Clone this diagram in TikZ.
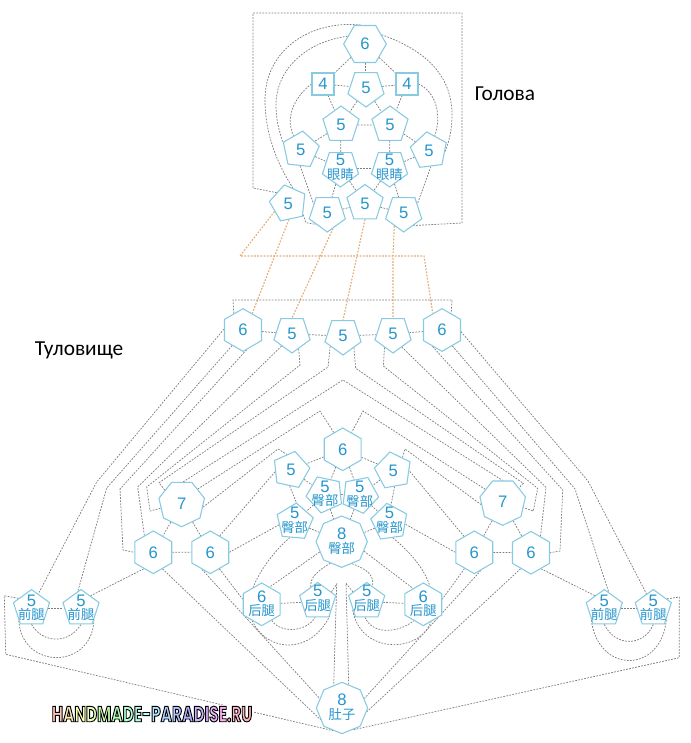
\documentclass[tikz,border=0pt]{standalone}
\usepackage{fontspec}
\setmainfont{Liberation Sans}
\newfontfamily\cjk{Noto Sans CJK SC}
\newfontfamily\ruslabel{Carlito}
\newfontfamily\wmfont[FakeStretch=0.7]{Poppins}
\usetikzlibrary{shapes.geometric,backgrounds}
\definecolor{cellline}{RGB}{135,202,225}
\definecolor{celltext}{RGB}{38,150,205}
\definecolor{linkgray}{RGB}{125,125,125}
\definecolor{linkorange}{RGB}{228,170,115}
% digit above, chinese word below, no width for the polygon to grow on
\newcommand\duo[3][0pt]{\makebox[0pt]{\raisebox{\dimexpr 1.7pt+#1\relax}[0pt][0pt]{\makebox[0pt]{#2}}}\makebox[0pt]{\raisebox{\dimexpr -8.6pt+#1\relax}[0pt][0pt]{\makebox[0pt]{\fontsize{10}{10}\cjk #3}}}}
\newcommand\wml[2]{\textcolor[hsb]{#1,0.3,1}{\special{pdf:literal 0 0 0 RG 2 Tr 0.7 w}#2\special{pdf:literal 0 Tr}}}
\begin{document}
\begin{tikzpicture}[x=0.75pt,y=-0.75pt]

    \tikzset{
      cell/.style={
        regular polygon,
        draw=cellline,
        fill=white,
        text=celltext,
        line width=0.8pt,
        inner sep=0pt,
        font=\fontsize{12.5}{12.5}\selectfont,
      },
      cellfour/.style={cell,rectangle,minimum size=16.5pt},
      cellfive/.style={cell,regular polygon sides=5,minimum size=28.5pt,regular polygon rotate=#1},
      cellfive/.default=0,
      cellsix/.style={cell,regular polygon sides=6,minimum size=32pt,regular polygon rotate=#1},
      cellsix/.default=30,
      cellseven/.style={cell,regular polygon sides=7,minimum size=35pt,regular polygon rotate=180},
      celleight/.style={cell,regular polygon sides=8,minimum size=38.5pt,regular polygon rotate=22.5},
      link/.style={draw=linkgray,line width=0.55pt,dash pattern=on 1.3pt off 1pt},
      seam/.style={draw=linkorange,line width=0.85pt,dash pattern=on 1.3pt off 1.1pt},
    }
    \useasboundingbox (0,0) rectangle (690,743);

    % head
    \node[cellsix=0] (h6) at (365,44) {6};
    \node[cellfour] (h4l) at (323,84) {4};
    \node[cellfour] (h4r) at (407,84) {4};
    \node[cellfive=180] (h5t) at (366,88) {5};
    \node[cellfive] (h5a) at (341,125) {5};
    \node[cellfive] (h5b) at (390,125) {5};
    \node[cellfive=-6] (h5c) at (300.7,150) {5};
    \node[cellfive=7] (h5d) at (429,150.7) {5};
    \node[cellfive=180] (eyel) at (340.5,168) {\duo{5}{眼睛}};
    \node[cellfive=180] (eyer) at (389.5,168) {\duo{5}{眼睛}};
    \node[cellfive=12] (h5e) at (288.3,203.5) {5};
    \node[cellfive=180] (h5f) at (327.3,213) {5};
    \node[cellfive] (h5g) at (365,203.5) {5};
    \node[cellfive=180] (h5h) at (403.7,213) {5};

    % trunk, top row
    \node[cellsix] (t6l) at (243,330) {6};
    \node[cellfive=180] (t5a) at (292,334) {5};
    \node[cellfive=180] (t5b) at (343,336) {5};
    \node[cellfive=180] (t5c) at (393,334) {5};
    \node[cellsix] (t6r) at (442,330) {6};

    % trunk, middle
    \node[cellsix] (c6) at (342.7,449.3) {6};
    \node[cellfive=-12] (c5l) at (291,470) {5};
    \node[cellfive=10] (c5r) at (393.2,470.7) {5};
    \node[cellfive=168] (u1) at (325,494.3) {\duo{5}{臀部}};
    \node[cellfive=191] (u2) at (359.8,494.7) {\duo{5}{臀部}};
    \node[cellfive=-5] (l1) at (294.7,522) {\duo[1pt]{5}{臀部}};
    \node[cellfive=8] (l2) at (389.5,522.2) {\duo[1pt]{5}{臀部}};
    \node[celleight] (c8) at (341.7,541.7) {\duo{8}{臀部}};
    \node[cellseven] (n7l) at (181.7,503.4) {7};
    \node[cellseven] (n7r) at (502.7,502) {7};
    \node[cellsix] (n6a) at (153.3,552.3) {6};
    \node[cellsix] (n6b) at (210.3,552.3) {6};
    \node[cellsix] (n6c) at (474.3,552.3) {6};
    \node[cellsix] (n6d) at (531,552.7) {6};

    % legs and belly
    \node[cellfive] (lf1) at (31.5,608.5) {\duo{5}{前腿}};
    \node[cellfive] (lf2) at (81,608.5) {\duo{5}{前腿}};
    \node[cellfive] (rf1) at (604.3,608.5) {\duo{5}{前腿}};
    \node[cellfive] (rf2) at (653.3,608.5) {\duo{5}{前腿}};
    \node[cellsix] (lh6) at (261.7,604.3) {\duo{6}{后腿}};
    \node[cellfive] (lh5) at (317.7,601.5) {\duo[1.8pt]{5}{后腿}};
    \node[cellfive] (rh5) at (366.7,601.5) {\duo[1.8pt]{5}{后腿}};
    \node[cellsix] (rh6) at (423.3,604.3) {\duo{6}{后腿}};
    \node[celleight] (b8) at (342,708) {\duo{8}{肚子}};

    \begin{scope}[on background layer]
      \foreach \a/\b in {h6/h5t,h6/h4l,h6/h4r,h4l/h5t,h5t/h4r,h4l/h5a,h4r/h5b,h5t/h5a,h5t/h5b,h5a/h5b,
        h5a/h5c,h5b/h5d,h5a/eyel,h5b/eyer,eyel/eyer,h5c/eyel,h5d/eyer,eyel/h5f,eyel/h5g,eyer/h5g,eyer/h5h,
        h5f/h5g,h5g/h5h,t6l/t5a,t5a/t5b,t5b/t5c,t5c/t6r,
        c6/c5l,c6/c5r,c6/u1,c6/u2,c5l/u1,c5r/u2,u1/u2,u1/l1,u2/l2,u1/c8,u2/c8,l1/c8,l2/c8,
        n7l/n6a,n7l/n6b,n6a/n6b,n7r/n6c,n7r/n6d,n6c/n6d,lf1/lf2,rf1/rf2,lh6/lh5,rh5/rh6}
        \draw[link] (\a) -- (\b);
      \draw[link] (c5l.265) -- (l1.85);
      \draw[link] (c5r.275) -- (l2.85);

      % head outline and curves
      \draw[link] (h5e.137) -- (253,188) -- (253,13) -- (462,13) -- (462,223) -- (h5h.308);
      \draw[link] (h6.103) .. controls (310,20) and (265,50) .. (265,100) .. controls (265,135) and (278,165) .. (h5e.73);
      \draw[link] (h6.156) .. controls (305,42) and (276,70) .. (276,105) .. controls (276,120) and (279,130) .. (h5c.158);
      \draw[link] (h6.29) .. controls (425,50) and (452,75) .. (452,115) .. controls (452,130) and (449,142) .. (h5d.353);
      \draw[link] (h4l.west) .. controls (297,95) and (284,115) .. (h5c.117);
      \draw[link] (h4r.east) .. controls (436,92) and (442,115) .. (h5d.69);
      \draw[link] (h5e.323) -- (306,222.7) -- (h5f.225);
      \draw[link] (h5c.268) -- (h5f.146);
      \draw[link] (h5d.277) -- (h5h.34);

      % seam between head and trunk
      \draw[seam] (h5e.210) -- (240,256) -- (424,256) -- (t6r.119);
      \draw[seam] (h5e.272) -- (t6l.61);
      \draw[seam] (h5f.290) -- (t5a.90);
      \draw[seam] (h5g.270) -- (t5b.90);
      \draw[seam] (h5h.234) -- (393,256) -- (t5c.90);
      \draw[link] (t6l.119) -- (233,300) -- (452,300) -- (t6r.61);

      % long lines, left side
      \draw[link] (t6l.177) -- (96.7,482) -- (lf1.65);
      \draw[link] (t6l.235) -- (106.7,488) -- (lf2.100);
      \draw[link] (t6l.280) -- (120,489) -- (123,550) -- (n6a.180);
      \draw[link] (t5a.229) -- (137.7,487) -- (n6a.118);
      \draw[link] (t5a.294) -- (300,365) -- (146.7,487) -- (150,511) -- (n7l.193);
      \draw[link] (t5b.219) -- (328,367) -- (159,482.7) -- (n7l.142);

      % long lines, right side
      \draw[link] (t6r.355) -- (588,481) -- (rf2.115);
      \draw[link] (t6r.303) -- (575,489) -- (rf1.75);
      \draw[link] (t6r.240) -- (562.7,490) -- (560,551) -- (n6d.0);
      \draw[link] (t5c.304) -- (546,487.3) -- (n6d.60);
      \draw[link] (t5c.238) -- (383.3,366) -- (537.7,488.3) -- (533.3,511) -- (n7r.345);
      \draw[link] (t5b.313) -- (355.7,368.3) -- (523.3,483.3) -- (n7r.41);

      % peaks over the middle
      \draw[link] (n7l.86) -- (343,380) -- (n7r.90);
      \draw[link] (n7l.42) -- (320,411) -- (c6.118);
      \draw[link] (n7r.144) -- (363,411) -- (c6.62);
      \draw[link] (n7l.350) -- (278,449) -- (c5l.105);
      \draw[link] (n7r.187) -- (405,449) -- (c5r.55);

      % middle to the sixes and hind legs
      \draw[link] (n6b.60) -- (c5l.186);
      \draw[link] (n6c.123) -- (c5r.0);
      \draw[link] (n6b.0) -- (l1.190);
      \draw[link] (n6c.180) -- (l2.353);
      \draw[link] (l1.253) .. controls (275,550) and (260,570) .. (lh6.117);
      \draw[link] (l2.282) .. controls (410,552) and (424,568) .. (rh6.70);
      \draw[link] (c8.205) -- (lh6.65);
      \draw[link] (c8.337) -- (rh6.123);
      \draw[link] (c8.242) .. controls (316,572) and (310,578) .. (lh5.115);
      \draw[link] (c8.295) .. controls (369,570) and (374,576) .. (rh5.69);
      \draw[link] (lh6.302) .. controls (280,633) and (305,633) .. (lh5.261);
      \draw[link] (lh6.240) .. controls (268,654) and (312,654) .. (lh5.312);
      \draw[link] (rh5.264) .. controls (372,634) and (397,634) .. (rh6.240);
      \draw[link] (rh5.212) .. controls (360,654) and (419,654) .. (rh6.294);

      % fore legs
      \draw[link] (n6a.240) -- (lf2.53);
      \draw[link] (n6d.302) -- (rf1.126);
      \draw[link] (lf1.270) .. controls (43,644) and (69,644) .. (lf2.270);
      \draw[link] (lf1.224) .. controls (22,670) and (92,670) .. (lf2.319);
      \draw[link] (rf1.270) .. controls (615,647) and (644,647) .. (rf2.270);
      \draw[link] (rf1.222) .. controls (598,674) and (661,674) .. (rf2.319);

      % belly
      \draw[link] (lf1.142) -- (4.3,595.7) -- (5.7,654.3) -- (b8.250);
      \draw[link] (rf2.35) -- (679.3,597) -- (679.3,657.7) -- (b8.295);
      \draw[link] (lh5.35) -- (336.7,584) -- (b8.110);
      \draw[link] (rh5.145) -- (346,583.3) -- (b8.74);
      \draw[link] (n6a.299) -- (b8.209);
      \draw[link] (n6b.244) -- (b8.157);
      \draw[link] (n6b.299) -- (lh6.165);
      \draw[link] (n6c.290) -- (b8.23);
      \draw[link] (n6c.239) -- (rh6.15);
      \draw[link] (n6d.237) -- (b8.351);
    \end{scope}

    \node[font=\ruslabel\fontsize{16}{16}\selectfont] (head) at (505,94) {Голова};
    \node[font=\ruslabel\fontsize{16}{16}\selectfont] (trunk) at (79,350) {Туловище};
    \node[fill=white,inner sep=1pt,font=\wmfont\bfseries\fontsize{16.5}{16.5}\selectfont] (site) at (152,714) {%
      \wml{0.04}{H}\wml{0.12}{A}\wml{0.17}{N}\wml{0.22}{D}\wml{0.28}{M}\wml{0.34}{A}\wml{0.40}{D}\wml{0.46}{E}\wml{0.50}{-}%
      \wml{0.55}{P}\wml{0.59}{A}\wml{0.63}{R}\wml{0.67}{A}\wml{0.72}{D}\wml{0.76}{I}\wml{0.80}{S}\wml{0.85}{E}\wml{0.90}{.}\wml{0.95}{R}\wml{0.99}{U}};

\end{tikzpicture}
\end{document}
